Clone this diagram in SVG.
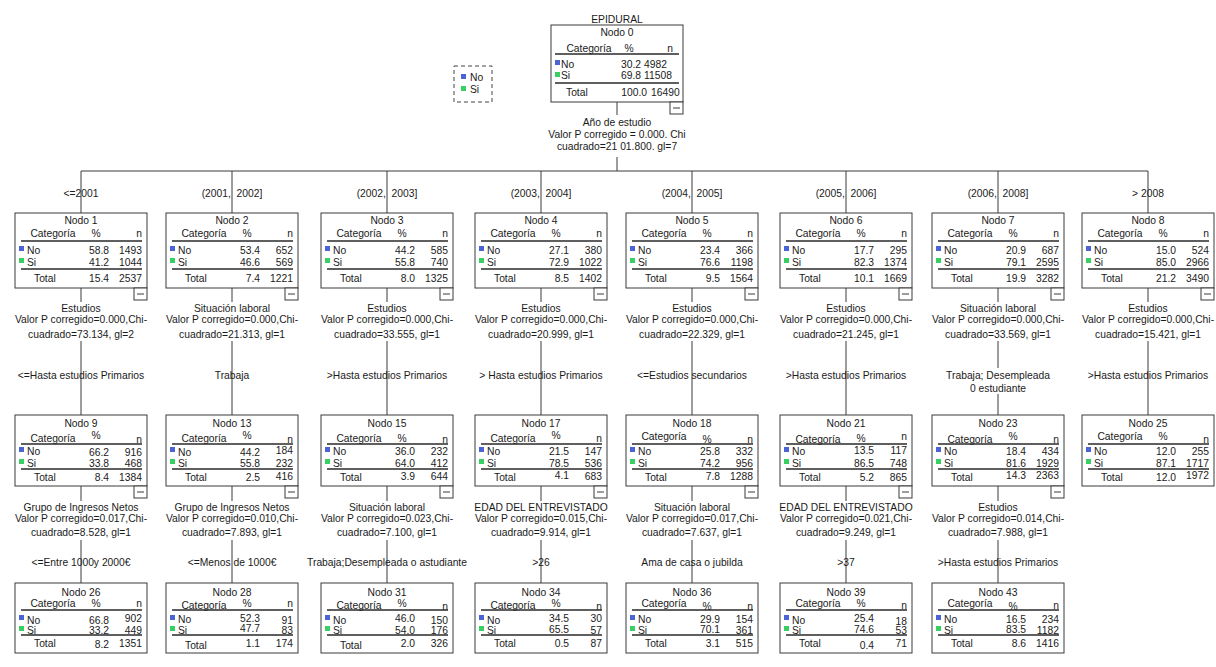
<svg xmlns="http://www.w3.org/2000/svg" width="1216" height="667" viewBox="0 0 1216 667">
<style>
text{font-family:"Liberation Sans",Arial,Helvetica,sans-serif;font-size:10.3px;fill:#1a1a1a}
.c{text-anchor:middle}
.e{text-anchor:end}
.pre{white-space:pre}
.box{fill:#fff;stroke:#3a3a3a;stroke-width:1}
.ln{stroke:#3a3a3a;stroke-width:1;fill:none}
.hl{stroke:#2a2a2a;stroke-width:1.3}
.no{fill:#4a63d6}
.si{fill:#38d062}
.lg{fill:#fff;stroke:#444;stroke-width:1;stroke-dasharray:4 3}
</style>
<defs>
<g id="minus"><rect class="box" x="0" y="0" width="13" height="12"/><line class="ln" x1="3" y1="6" x2="10" y2="6"/></g>
</defs>

<g id="legend">
<rect class="lg" x="454" y="66" width="38" height="36"/>
<rect class="no" x="461" y="74" width="5" height="5"/><text x="470" y="81">No</text>
<rect class="si" x="461" y="86" width="5" height="5"/><text x="470" y="93">Si</text>
</g>

<g id="connectors">
<line class="ln" x1="617" y1="102" x2="617" y2="115"/>
<text class="c" x="617" y="126">Año de estudio</text>
<text class="c" x="617" y="138">Valor P corregido = 0.000. Chi</text>
<text class="c" x="617" y="150">cuadrado=21 01.800. gl=7</text>
<line class="ln" x1="617" y1="157" x2="617" y2="171"/>
<line class="ln" x1="81" y1="171" x2="1148" y2="171"/>
<path class="ln" d="M81 171V213M232 171V213M387 171V213M541 171V213M692 171V213M846 171V213M998 171V213M1148 171V213"/>
<text class="c" x="81" y="197">&lt;=2001</text>
<text class="c pre" x="232" y="197" xml:space="preserve">(2001,  2002]</text>
<text class="c pre" x="387" y="197" xml:space="preserve">(2002,  2003]</text>
<text class="c pre" x="541" y="197" xml:space="preserve">(2003,  2004]</text>
<text class="c pre" x="692" y="197" xml:space="preserve">(2004,  2005]</text>
<text class="c pre" x="846" y="197" xml:space="preserve">(2005,  2006]</text>
<text class="c pre" x="998" y="197" xml:space="preserve">(2006,  2008]</text>
<text class="c" x="1148" y="197">&gt; 2008</text>

<path class="ln" d="M81 288V302M232 288V302M387 288V302M541 288V302M692 288V302M846 288V302M998 288V302M1148 288V302"/>
<path class="ln" d="M81 341V415M232 341V415M387 341V415M541 341V415M692 341V415M846 341V415M998 341V368M998 394V415M1148 341V415"/>
<text class="c" x="81" y="312">Estudios</text>
<text class="c" x="81" y="323">Valor P corregido=0.000,Chi-</text>
<text class="c" x="81" y="338">cuadrado=73.134, gl=2</text>
<text class="c" x="81" y="379">&lt;=Hasta estudios Primarios</text>
<text class="c" x="232" y="312">Situación laboral</text>
<text class="c" x="232" y="323">Valor P corregido=0.000,Chi-</text>
<text class="c" x="232" y="338">cuadrado=21.313, gl=1</text>
<text class="c" x="232" y="379">Trabaja</text>
<text class="c" x="387" y="312">Estudios</text>
<text class="c" x="387" y="323">Valor P corregido=0.000,Chi-</text>
<text class="c" x="387" y="338">cuadrado=33.555, gl=1</text>
<text class="c" x="387" y="379">&gt;Hasta estudios Primarios</text>
<text class="c" x="541" y="312">Estudios</text>
<text class="c" x="541" y="323">Valor P corregido=0.000,Chi-</text>
<text class="c" x="541" y="338">cuadrado=20.999, gl=1</text>
<text class="c" x="541" y="379">&gt; Hasta estudios Primarios</text>
<text class="c" x="692" y="312">Estudios</text>
<text class="c" x="692" y="323">Valor P corregido=0.000,Chi-</text>
<text class="c" x="692" y="338">cuadrado=22.329, gl=1</text>
<text class="c" x="692" y="379">&lt;=Estudios secundarios</text>
<text class="c" x="846" y="312">Estudios</text>
<text class="c" x="846" y="323">Valor P corregido=0.000,Chi-</text>
<text class="c" x="846" y="338">cuadrado=21.245, gl=1</text>
<text class="c" x="846" y="379">&gt;Hasta estudios Primarios</text>
<text class="c" x="998" y="312">Situación laboral</text>
<text class="c" x="998" y="323">Valor P corregido=0.000,Chi-</text>
<text class="c" x="998" y="338">cuadrado=33.569, gl=1</text>
<text class="c" x="998" y="379">Trabaja; Desempleada</text>
<text class="c" x="998" y="392">0 estudiante</text>
<text class="c" x="1148" y="312">Estudios</text>
<text class="c" x="1148" y="323">Valor P corregido=0.000,Chi-</text>
<text class="c" x="1148" y="338">cuadrado=15.421, gl=1</text>
<text class="c" x="1148" y="379">&gt;Hasta estudios Primarios</text>

<path class="ln" d="M81 486V501M232 486V501M387 486V501M541 486V501M692 486V501M846 486V501M998 486V501"/>
<path class="ln" d="M81 540V583M232 540V583M387 540V583M541 540V583M692 540V583M846 540V583M998 540V583"/>
<text class="c" x="81" y="511">Grupo de Ingresos Netos</text>
<text class="c" x="81" y="522">Valor P corregido=0.017,Chi-</text>
<text class="c" x="81" y="536">cuadrado=8.528, gl=1</text>
<text class="c" x="81" y="566">&lt;=Entre 1000y 2000€</text>
<text class="c" x="232" y="511">Grupo de Ingresos Netos</text>
<text class="c" x="232" y="522">Valor P corregido=0.010,Chi-</text>
<text class="c" x="232" y="536">cuadrado=7.893, gl=1</text>
<text class="c" x="232" y="566">&lt;=Menos de 1000€</text>
<text class="c" x="387" y="511">Situación laboral</text>
<text class="c" x="387" y="522">Valor P corregido=0.023,Chi-</text>
<text class="c" x="387" y="536">cuadrado=7.100, gl=1</text>
<text class="c" x="387" y="566">Trabaja;Desempleada o astudiante</text>
<text class="c" x="541" y="511">EDAD DEL ENTREVISTADO</text>
<text class="c" x="541" y="522">Valor P corregido=0.015,Chi-</text>
<text class="c" x="541" y="536">cuadrado=9.914, gl=1</text>
<text class="c" x="541" y="566">&gt;26</text>
<text class="c" x="692" y="511">Situación laboral</text>
<text class="c" x="692" y="522">Valor P corregido=0.017,Chi-</text>
<text class="c" x="692" y="536">cuadrado=7.637, gl=1</text>
<text class="c" x="692" y="566">Ama de casa o jubilda</text>
<text class="c" x="846" y="511">EDAD DEL ENTREVISTADO</text>
<text class="c" x="846" y="522">Valor P corregido=0.021,Chi-</text>
<text class="c" x="846" y="536">cuadrado=9.249, gl=1</text>
<text class="c" x="846" y="566">&gt;37</text>
<text class="c" x="998" y="511">Estudios</text>
<text class="c" x="998" y="522">Valor P corregido=0.014,Chi-</text>
<text class="c" x="998" y="536">cuadrado=7.988, gl=1</text>
<text class="c" x="998" y="566">&gt;Hasta estudios Primarios</text>
</g>

<g id="node0">
<text class="c" x="617" y="23">EPIDURAL</text>
<g transform="translate(551,25)">
<rect class="box" width="132" height="77"/>
<text class="c" x="66" y="11">Nodo 0</text>
<text class="c" x="38" y="27">Categoría</text><text class="c" x="78" y="27">%</text><text class="e" x="122" y="27">n</text>
<line class="hl" x1="4" y1="29" x2="128" y2="29"/>
<rect class="no" x="4" y="35" width="5" height="5"/><text x="10" y="43">No</text><text class="e" x="90" y="43">30.2</text><text x="93" y="43">4982</text>
<rect class="si" x="4" y="47" width="5" height="5"/><text x="10" y="54">Si</text><text class="e" x="90" y="54">69.8</text><text x="93" y="54">11508</text>
<line class="hl" x1="4" y1="58" x2="128" y2="58"/>
<text x="15" y="71">Total</text><text class="e" x="96" y="71">100.0</text><text x="100" y="71">16490</text>
<use href="#minus" x="119" y="77"/>
</g>
</g>

<!-- Level 1 -->
<g id="node1" transform="translate(15,213)">
<rect class="box" width="132" height="75"/><text class="c" x="66" y="11">Nodo 1</text>
<text class="c" x="38" y="24">Categoría</text><text class="c" x="81" y="24">%</text><text class="e" x="127" y="24">n</text>
<line class="hl" x1="6" y1="28" x2="127" y2="28"/>
<rect class="no" x="4" y="33" width="5" height="5"/><text x="12" y="41">No</text><text class="e" x="94" y="41">58.8</text><text class="e" x="127" y="41">1493</text>
<rect class="si" x="4" y="45" width="5" height="5"/><text x="12" y="53">Si</text><text class="e" x="94" y="53">41.2</text><text class="e" x="127" y="53">1044</text>
<line class="hl" x1="6" y1="56" x2="127" y2="56"/>
<text x="19" y="69">Total</text><text class="e" x="94" y="69">15.4</text><text class="e" x="127" y="69">2537</text>
<use href="#minus" x="119" y="75"/>
</g>
<g id="node2" transform="translate(166,213)">
<rect class="box" width="132" height="75"/><text class="c" x="66" y="11">Nodo 2</text>
<text class="c" x="38" y="24">Categoría</text><text class="c" x="81" y="24">%</text><text class="e" x="127" y="24">n</text>
<line class="hl" x1="6" y1="28" x2="127" y2="28"/>
<rect class="no" x="4" y="33" width="5" height="5"/><text x="12" y="41">No</text><text class="e" x="94" y="41">53.4</text><text class="e" x="127" y="41">652</text>
<rect class="si" x="4" y="45" width="5" height="5"/><text x="12" y="53">Si</text><text class="e" x="94" y="53">46.6</text><text class="e" x="127" y="53">569</text>
<line class="hl" x1="6" y1="56" x2="127" y2="56"/>
<text x="19" y="69">Total</text><text class="e" x="94" y="69">7.4</text><text class="e" x="127" y="69">1221</text>
<use href="#minus" x="119" y="75"/>
</g>
<g id="node3" transform="translate(321,213)">
<rect class="box" width="132" height="75"/><text class="c" x="66" y="11">Nodo 3</text>
<text class="c" x="38" y="24">Categoría</text><text class="c" x="81" y="24">%</text><text class="e" x="127" y="24">n</text>
<line class="hl" x1="6" y1="28" x2="127" y2="28"/>
<rect class="no" x="4" y="33" width="5" height="5"/><text x="12" y="41">No</text><text class="e" x="94" y="41">44.2</text><text class="e" x="127" y="41">585</text>
<rect class="si" x="4" y="45" width="5" height="5"/><text x="12" y="53">Si</text><text class="e" x="94" y="53">55.8</text><text class="e" x="127" y="53">740</text>
<line class="hl" x1="6" y1="56" x2="127" y2="56"/>
<text x="19" y="69">Total</text><text class="e" x="94" y="69">8.0</text><text class="e" x="127" y="69">1325</text>
<use href="#minus" x="119" y="75"/>
</g>
<g id="node4" transform="translate(475,213)">
<rect class="box" width="132" height="75"/><text class="c" x="66" y="11">Nodo 4</text>
<text class="c" x="38" y="24">Categoría</text><text class="c" x="81" y="24">%</text><text class="e" x="127" y="24">n</text>
<line class="hl" x1="6" y1="28" x2="127" y2="28"/>
<rect class="no" x="4" y="33" width="5" height="5"/><text x="12" y="41">No</text><text class="e" x="94" y="41">27.1</text><text class="e" x="127" y="41">380</text>
<rect class="si" x="4" y="45" width="5" height="5"/><text x="12" y="53">Si</text><text class="e" x="94" y="53">72.9</text><text class="e" x="127" y="53">1022</text>
<line class="hl" x1="6" y1="56" x2="127" y2="56"/>
<text x="19" y="69">Total</text><text class="e" x="94" y="69">8.5</text><text class="e" x="127" y="69">1402</text>
<use href="#minus" x="119" y="75"/>
</g>
<g id="node5" transform="translate(626,213)">
<rect class="box" width="132" height="75"/><text class="c" x="66" y="11">Nodo 5</text>
<text class="c" x="38" y="24">Categoría</text><text class="c" x="81" y="24">%</text><text class="e" x="127" y="24">n</text>
<line class="hl" x1="6" y1="28" x2="127" y2="28"/>
<rect class="no" x="4" y="33" width="5" height="5"/><text x="12" y="41">No</text><text class="e" x="94" y="41">23.4</text><text class="e" x="127" y="41">366</text>
<rect class="si" x="4" y="45" width="5" height="5"/><text x="12" y="53">Si</text><text class="e" x="94" y="53">76.6</text><text class="e" x="127" y="53">1198</text>
<line class="hl" x1="6" y1="56" x2="127" y2="56"/>
<text x="19" y="69">Total</text><text class="e" x="94" y="69">9.5</text><text class="e" x="127" y="69">1564</text>
<use href="#minus" x="119" y="75"/>
</g>
<g id="node6" transform="translate(780,213)">
<rect class="box" width="132" height="75"/><text class="c" x="66" y="11">Nodo 6</text>
<text class="c" x="38" y="24">Categoría</text><text class="c" x="81" y="24">%</text><text class="e" x="127" y="24">n</text>
<line class="hl" x1="6" y1="28" x2="127" y2="28"/>
<rect class="no" x="4" y="33" width="5" height="5"/><text x="12" y="41">No</text><text class="e" x="94" y="41">17.7</text><text class="e" x="127" y="41">295</text>
<rect class="si" x="4" y="45" width="5" height="5"/><text x="12" y="53">Si</text><text class="e" x="94" y="53">82.3</text><text class="e" x="127" y="53">1374</text>
<line class="hl" x1="6" y1="56" x2="127" y2="56"/>
<text x="19" y="69">Total</text><text class="e" x="94" y="69">10.1</text><text class="e" x="127" y="69">1669</text>
<use href="#minus" x="119" y="75"/>
</g>
<g id="node7" transform="translate(932,213)">
<rect class="box" width="132" height="75"/><text class="c" x="66" y="11">Nodo 7</text>
<text class="c" x="38" y="24">Categoría</text><text class="c" x="81" y="24">%</text><text class="e" x="127" y="24">n</text>
<line class="hl" x1="6" y1="28" x2="127" y2="28"/>
<rect class="no" x="4" y="33" width="5" height="5"/><text x="12" y="41">No</text><text class="e" x="94" y="41">20.9</text><text class="e" x="127" y="41">687</text>
<rect class="si" x="4" y="45" width="5" height="5"/><text x="12" y="53">Si</text><text class="e" x="94" y="53">79.1</text><text class="e" x="127" y="53">2595</text>
<line class="hl" x1="6" y1="56" x2="127" y2="56"/>
<text x="19" y="69">Total</text><text class="e" x="94" y="69">19.9</text><text class="e" x="127" y="69">3282</text>
<use href="#minus" x="119" y="75"/>
</g>
<g id="node8" transform="translate(1082,213)">
<rect class="box" width="132" height="75"/><text class="c" x="66" y="11">Nodo 8</text>
<text class="c" x="38" y="24">Categoría</text><text class="c" x="81" y="24">%</text><text class="e" x="127" y="24">n</text>
<line class="hl" x1="6" y1="28" x2="127" y2="28"/>
<rect class="no" x="4" y="33" width="5" height="5"/><text x="12" y="41">No</text><text class="e" x="94" y="41">15.0</text><text class="e" x="127" y="41">524</text>
<rect class="si" x="4" y="45" width="5" height="5"/><text x="12" y="53">Si</text><text class="e" x="94" y="53">85.0</text><text class="e" x="127" y="53">2966</text>
<line class="hl" x1="6" y1="56" x2="127" y2="56"/>
<text x="19" y="69">Total</text><text class="e" x="94" y="69">21.2</text><text class="e" x="127" y="69">3490</text>
<use href="#minus" x="119" y="75"/>
</g>

<!-- Level 2 -->
<g id="node9" transform="translate(15,415)">
<rect class="box" width="132" height="71"/><text class="c" x="66" y="12">Nodo 9</text>
<text class="c" x="38" y="27">Categoría</text><text class="c" x="81" y="24">%</text><text class="e" x="127" y="28">n</text>
<line class="hl" x1="6" y1="29" x2="127" y2="29"/>
<rect class="no" x="4" y="32" width="5" height="5"/><text x="12" y="40">No</text><text class="e" x="94" y="41">66.2</text><text class="e" x="127" y="41">916</text>
<rect class="si" x="4" y="44" width="5" height="5"/><text x="12" y="52">Si</text><text class="e" x="94" y="52">33.8</text><text class="e" x="127" y="52">468</text>
<line class="hl" x1="6" y1="54" x2="127" y2="54"/>
<text x="19" y="66">Total</text><text class="e" x="94" y="66">8.4</text><text class="e" x="127" y="66">1384</text>
<use href="#minus" x="119" y="71"/>
</g>
<g id="node13" transform="translate(166,415)">
<rect class="box" width="132" height="71"/><text class="c" x="66" y="12">Nodo 13</text>
<text class="c" x="38" y="27">Categoría</text><text class="c" x="81" y="24">%</text><text class="e" x="127" y="28">n</text>
<line class="hl" x1="6" y1="29" x2="127" y2="29"/>
<rect class="no" x="4" y="32" width="5" height="5"/><text x="12" y="41">No</text><text class="e" x="94" y="41">44.2</text><text class="e" x="127" y="39">184</text>
<rect class="si" x="4" y="44" width="5" height="5"/><text x="12" y="52">Si</text><text class="e" x="94" y="52">55.8</text><text class="e" x="127" y="52">232</text>
<line class="hl" x1="6" y1="54" x2="127" y2="54"/>
<text x="19" y="66">Total</text><text class="e" x="94" y="66">2.5</text><text class="e" x="127" y="65">416</text>
<use href="#minus" x="119" y="71"/>
</g>
<g id="node15" transform="translate(321,415)">
<rect class="box" width="132" height="71"/><text class="c" x="66" y="12">Nodo 15</text>
<text class="c" x="38" y="27">Categoría</text><text class="c" x="81" y="27">%</text><text class="e" x="127" y="28">n</text>
<line class="hl" x1="6" y1="29" x2="127" y2="29"/>
<rect class="no" x="4" y="32" width="5" height="5"/><text x="12" y="40">No</text><text class="e" x="94" y="40">36.0</text><text class="e" x="127" y="40">232</text>
<rect class="si" x="4" y="44" width="5" height="5"/><text x="12" y="52">Si</text><text class="e" x="94" y="52">64.0</text><text class="e" x="127" y="52">412</text>
<line class="hl" x1="6" y1="54" x2="127" y2="54"/>
<text x="19" y="66">Total</text><text class="e" x="94" y="65">3.9</text><text class="e" x="127" y="65">644</text>
<use href="#minus" x="119" y="71"/>
</g>
<g id="node17" transform="translate(475,415)">
<rect class="box" width="132" height="71"/><text class="c" x="66" y="12">Nodo 17</text>
<text class="c" x="38" y="27">Categoría</text><text class="c" x="81" y="24">%</text><text class="e" x="127" y="27">n</text>
<line class="hl" x1="6" y1="29" x2="127" y2="29"/>
<rect class="no" x="4" y="32" width="5" height="5"/><text x="12" y="40">No</text><text class="e" x="94" y="40">21.5</text><text class="e" x="127" y="40">147</text>
<rect class="si" x="4" y="44" width="5" height="5"/><text x="12" y="52">Si</text><text class="e" x="94" y="52">78.5</text><text class="e" x="127" y="52">536</text>
<line class="hl" x1="6" y1="54" x2="127" y2="54"/>
<text x="19" y="66">Total</text><text class="e" x="94" y="64">4.1</text><text class="e" x="127" y="65">683</text>
<use href="#minus" x="119" y="71"/>
</g>
<g id="node18" transform="translate(626,415)">
<rect class="box" width="132" height="71"/><text class="c" x="66" y="12">Nodo 18</text>
<text class="c" x="38" y="25">Categoría</text><text class="c" x="81" y="28">%</text><text class="e" x="127" y="28">n</text>
<line class="hl" x1="6" y1="29" x2="127" y2="29"/>
<rect class="no" x="4" y="32" width="5" height="5"/><text x="12" y="40">No</text><text class="e" x="94" y="40">25.8</text><text class="e" x="127" y="40">332</text>
<rect class="si" x="4" y="44" width="5" height="5"/><text x="12" y="52">Si</text><text class="e" x="94" y="52">74.2</text><text class="e" x="127" y="52">956</text>
<line class="hl" x1="6" y1="54" x2="127" y2="54"/>
<text x="19" y="66">Total</text><text class="e" x="94" y="65">7.8</text><text class="e" x="127" y="65">1288</text>
<use href="#minus" x="119" y="71"/>
</g>
<g id="node21" transform="translate(780,415)">
<rect class="box" width="132" height="71"/><text class="c" x="66" y="12">Nodo 21</text>
<text class="c" x="38" y="28">Categoría</text><text class="c" x="81" y="27">%</text><text class="e" x="127" y="25">n</text>
<line class="hl" x1="6" y1="29" x2="127" y2="29"/>
<rect class="no" x="4" y="32" width="5" height="5"/><text x="12" y="40">No</text><text class="e" x="94" y="39">13.5</text><text class="e" x="127" y="39">117</text>
<rect class="si" x="4" y="44" width="5" height="5"/><text x="12" y="52">Si</text><text class="e" x="94" y="52">86.5</text><text class="e" x="127" y="52">748</text>
<line class="hl" x1="6" y1="54" x2="127" y2="54"/>
<text x="19" y="66">Total</text><text class="e" x="94" y="66">5.2</text><text class="e" x="127" y="66">865</text>
<use href="#minus" x="119" y="71"/>
</g>
<g id="node23" transform="translate(932,415)">
<rect class="box" width="132" height="71"/><text class="c" x="66" y="12">Nodo 23</text>
<text class="c" x="38" y="28">Categoría</text><text class="c" x="81" y="25">%</text><text class="e" x="127" y="28">n</text>
<line class="hl" x1="6" y1="29" x2="127" y2="29"/>
<rect class="no" x="4" y="32" width="5" height="5"/><text x="12" y="40">No</text><text class="e" x="94" y="40">18.4</text><text class="e" x="127" y="40">434</text>
<rect class="si" x="4" y="44" width="5" height="5"/><text x="12" y="52">Si</text><text class="e" x="94" y="52">81.6</text><text class="e" x="127" y="52">1929</text>
<line class="hl" x1="6" y1="54" x2="127" y2="54"/>
<text x="19" y="66">Total</text><text class="e" x="94" y="64">14.3</text><text class="e" x="127" y="64">2363</text>
<use href="#minus" x="119" y="71"/>
</g>
<g id="node25" transform="translate(1082,415)">
<rect class="box" width="132" height="71"/><text class="c" x="66" y="12">Nodo 25</text>
<text class="c" x="38" y="25">Categoría</text><text class="c" x="81" y="25">%</text><text class="e" x="127" y="28">n</text>
<line class="hl" x1="6" y1="29" x2="127" y2="29"/>
<rect class="no" x="4" y="32" width="5" height="5"/><text x="12" y="40">No</text><text class="e" x="94" y="40">12.0</text><text class="e" x="127" y="40">255</text>
<rect class="si" x="4" y="44" width="5" height="5"/><text x="12" y="52">Si</text><text class="e" x="94" y="52">87.1</text><text class="e" x="127" y="52">1717</text>
<line class="hl" x1="6" y1="54" x2="127" y2="54"/>
<text x="19" y="66">Total</text><text class="e" x="94" y="66">12.0</text><text class="e" x="127" y="64">1972</text>
</g>

<!-- Level 3 -->
<g id="node26" transform="translate(15,583)">
<rect class="box" width="132" height="70"/><text class="c" x="66" y="13">Nodo 26</text>
<text class="c" x="38" y="24">Categoría</text><text class="c" x="81" y="24">%</text><text class="e" x="127" y="24">n</text>
<line class="hl" x1="6" y1="27" x2="127" y2="27"/>
<rect class="no" x="4" y="32" width="5" height="5"/><text x="12" y="41">No</text><text class="e" x="94" y="41">66.8</text><text class="e" x="127" y="39">902</text>
<rect class="si" x="4" y="43" width="5" height="5"/><text x="12" y="51">Si</text><text class="e" x="94" y="51">33.2</text><text class="e" x="127" y="51">449</text>
<line class="hl" x1="6" y1="52" x2="127" y2="52"/>
<text x="19" y="64">Total</text><text class="e" x="94" y="65">8.2</text><text class="e" x="127" y="64">1351</text>
</g>
<g id="node28" transform="translate(166,583)">
<rect class="box" width="132" height="70"/><text class="c" x="66" y="13">Nodo 28</text>
<text class="c" x="38" y="26">Categoría</text><text class="c" x="81" y="24">%</text><text class="e" x="127" y="24">n</text>
<line class="hl" x1="6" y1="27" x2="127" y2="27"/>
<rect class="no" x="4" y="32" width="5" height="5"/><text x="12" y="40">No</text><text class="e" x="94" y="39">52.3</text><text class="e" x="127" y="41">91</text>
<rect class="si" x="4" y="43" width="5" height="5"/><text x="12" y="51">Si</text><text class="e" x="94" y="49">47.7</text><text class="e" x="127" y="51">83</text>
<line class="hl" x1="6" y1="52" x2="127" y2="52"/>
<text x="19" y="66">Total</text><text class="e" x="94" y="64">1.1</text><text class="e" x="127" y="64">174</text>
</g>
<g id="node31" transform="translate(321,583)">
<rect class="box" width="132" height="70"/><text class="c" x="66" y="13">Nodo 31</text>
<text class="c" x="38" y="26">Categoría</text><text class="c" x="81" y="24">%</text><text class="e" x="127" y="27">n</text>
<line class="hl" x1="6" y1="27" x2="127" y2="27"/>
<rect class="no" x="4" y="32" width="5" height="5"/><text x="12" y="41">No</text><text class="e" x="94" y="39">46.0</text><text class="e" x="127" y="41">150</text>
<rect class="si" x="4" y="43" width="5" height="5"/><text x="12" y="51">Si</text><text class="e" x="94" y="51">54.0</text><text class="e" x="127" y="51">176</text>
<line class="hl" x1="6" y1="52" x2="127" y2="52"/>
<text x="19" y="66">Total</text><text class="e" x="94" y="64">2.0</text><text class="e" x="127" y="64">326</text>
</g>
<g id="node34" transform="translate(475,583)">
<rect class="box" width="132" height="70"/><text class="c" x="66" y="13">Nodo 34</text>
<text class="c" x="38" y="26">Categoría</text><text class="c" x="81" y="24">%</text><text class="e" x="127" y="27">n</text>
<line class="hl" x1="6" y1="27" x2="127" y2="27"/>
<rect class="no" x="4" y="32" width="5" height="5"/><text x="12" y="41">No</text><text class="e" x="94" y="39">34.5</text><text class="e" x="127" y="39">30</text>
<rect class="si" x="4" y="43" width="5" height="5"/><text x="12" y="51">Si</text><text class="e" x="94" y="50">65.5</text><text class="e" x="127" y="51">57</text>
<line class="hl" x1="6" y1="52" x2="127" y2="52"/>
<text x="19" y="64">Total</text><text class="e" x="94" y="64">0.5</text><text class="e" x="127" y="64">87</text>
</g>
<g id="node36" transform="translate(626,583)">
<rect class="box" width="132" height="70"/><text class="c" x="66" y="13">Nodo 36</text>
<text class="c" x="38" y="24">Categoría</text><text class="c" x="81" y="27">%</text><text class="e" x="127" y="27">n</text>
<line class="hl" x1="6" y1="27" x2="127" y2="27"/>
<rect class="no" x="4" y="32" width="5" height="5"/><text x="12" y="40">No</text><text class="e" x="94" y="40">29.9</text><text class="e" x="127" y="40">154</text>
<rect class="si" x="4" y="43" width="5" height="5"/><text x="12" y="51">Si</text><text class="e" x="94" y="50">70.1</text><text class="e" x="127" y="51">361</text>
<line class="hl" x1="6" y1="52" x2="127" y2="52"/>
<text x="19" y="64">Total</text><text class="e" x="94" y="64">3.1</text><text class="e" x="127" y="64">515</text>
</g>
<g id="node39" transform="translate(780,583)">
<rect class="box" width="132" height="70"/><text class="c" x="66" y="13">Nodo 39</text>
<text class="c" x="38" y="24">Categoría</text><text class="c" x="81" y="24">%</text><text class="e" x="127" y="26">n</text>
<line class="hl" x1="6" y1="27" x2="127" y2="27"/>
<rect class="no" x="4" y="32" width="5" height="5"/><text x="12" y="41">No</text><text class="e" x="94" y="39">25.4</text><text class="e" x="127" y="42">18</text>
<rect class="si" x="4" y="43" width="5" height="5"/><text x="12" y="51">Si</text><text class="e" x="94" y="50">74.6</text><text class="e" x="127" y="51">53</text>
<line class="hl" x1="6" y1="52" x2="127" y2="52"/>
<text x="19" y="64">Total</text><text class="e" x="94" y="66">0.4</text><text class="e" x="127" y="64">71</text>
</g>
<g id="node43" transform="translate(932,583)">
<rect class="box" width="132" height="70"/><text class="c" x="66" y="13">Nodo 43</text>
<text class="c" x="38" y="24">Categoría</text><text class="c" x="81" y="27">%</text><text class="e" x="127" y="26">n</text>
<line class="hl" x1="6" y1="27" x2="127" y2="27"/>
<rect class="no" x="4" y="32" width="5" height="5"/><text x="12" y="40">No</text><text class="e" x="94" y="40">16.5</text><text class="e" x="127" y="40">234</text>
<rect class="si" x="4" y="43" width="5" height="5"/><text x="12" y="51">Si</text><text class="e" x="94" y="50">83.5</text><text class="e" x="127" y="51">1182</text>
<line class="hl" x1="6" y1="52" x2="127" y2="52"/>
<text x="19" y="64">Total</text><text class="e" x="94" y="64">8.6</text><text class="e" x="127" y="64">1416</text>
</g>
</svg>
